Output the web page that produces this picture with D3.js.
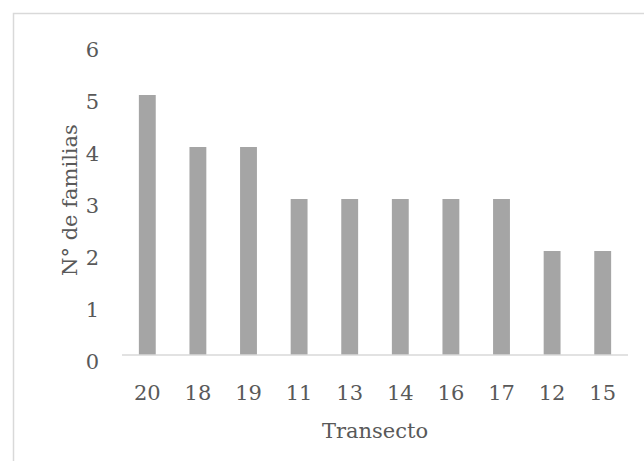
<!DOCTYPE html>
<html>
<head>
<meta charset="utf-8">
<script src="https://cdn.jsdelivr.net/npm/d3@7"></script>
<style>
  body { margin: 0; background: #fff; }
  text { font-family: "DejaVu Serif", serif; fill: #595959; }
</style>
</head>
<body>
<div id="chart"></div>
<script>
const width = 644;
const height = 461;

const transectos = ['20', '18', '19', '11', '13', '14', '16', '17', '12', '15'];
const familias = [5, 4, 4, 3, 3, 3, 3, 3, 2, 2];
const yTicks = [0, 1, 2, 3, 4, 5, 6];

const data = transectos.map((t, i) => ({ t: t, v: familias[i] }));

const svg = d3.select('#chart').append('svg')
  .attr('width', width)
  .attr('height', height);

// chart frame (runs off the right and bottom edge)
svg.append('rect')
  .attr('x', 13.5)
  .attr('y', 13.5)
  .attr('width', 700)
  .attr('height', 500)
  .attr('fill', 'none')
  .attr('stroke', '#d9d9d9')
  .attr('stroke-width', 1.5);

const xScale = d3.scaleBand()
  .domain(transectos)
  .range([122, 628])
  .paddingInner(2 / 3)
  .paddingOuter(1 / 3);

const yScale = d3.scaleLinear()
  .domain([0, 6])
  .range([355, 43]);

svg.selectAll('rect.bar')
  .data(data)
  .enter().append('rect')
  .attr('class', 'bar')
  .attr('x', d => xScale(d.t))
  .attr('y', d => yScale(d.v))
  .attr('width', xScale.bandwidth())
  .attr('height', d => yScale(0) - yScale(d.v))
  .attr('fill', '#a5a5a5');

// baseline
svg.append('line')
  .attr('x1', 122)
  .attr('x2', 628)
  .attr('y1', yScale(0))
  .attr('y2', yScale(0))
  .attr('stroke', '#d9d9d9')
  .attr('stroke-width', 1.5);

// y tick labels
svg.selectAll('text.ytick')
  .data(yTicks)
  .enter().append('text')
  .attr('class', 'ytick')
  .attr('x', 99)
  .attr('y', d => yScale(d) + 14)
  .attr('text-anchor', 'end')
  .style('font-size', '21px')
  .text(d => d);

// x tick labels
svg.selectAll('text.xtick')
  .data(transectos)
  .enter().append('text')
  .attr('class', 'xtick')
  .attr('x', d => xScale(d) + xScale.bandwidth() / 2)
  .attr('y', 400)
  .attr('text-anchor', 'middle')
  .style('font-size', '21px')
  .text(d => d);

svg.append('text')
  .attr('x', 375)
  .attr('y', 438)
  .attr('text-anchor', 'middle')
  .style('font-size', '21px')
  .text('Transecto');

svg.append('text')
  .attr('transform', 'translate(77,200) rotate(-90)')
  .attr('text-anchor', 'middle')
  .style('font-size', '21px')
  .text('N° de familias');
</script>
</body>
</html>
